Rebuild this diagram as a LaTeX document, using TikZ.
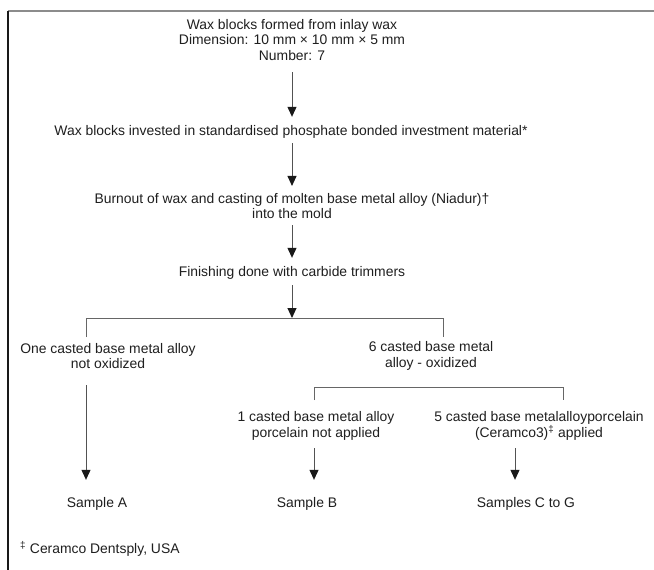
\documentclass[tikz,border=0pt]{standalone}
\usepackage{fontspec}
\setmainfont{Liberation Sans}
\usetikzlibrary{arrows.meta}
\begin{document}
\begin{tikzpicture}[x=1pt,y=-1pt,
  txt/.style={font=\fontsize{13.9}{15.5}\selectfont, align=center, inner sep=0pt, text=black!88},
  arr/.style={draw=black!68, line width=1pt, -{Triangle[width=9pt,length=10pt,black!90]}},
  brk/.style={draw=black!60, line width=1pt}]
\useasboundingbox (0,0) rectangle (654,570);
\fill[white] (0,0) rectangle (654,570);
% frame
\coordinate (fc) at (8,11);
\coordinate (fr) at (654,11);
\coordinate (fb) at (8,570);
\draw[black!45, line width=1.2pt] (fc) -- (fr);
\draw[black!90, line width=1.2pt] (fc) -- (fb);
% nodes
\node[txt] (n1) at (292,40) {Wax blocks formed from inlay wax\\Dimension: 10 mm × 10 mm × 5 mm\\Number: 7};
\node[txt] (n2) at (291,132) {Wax blocks invested in standardised phosphate bonded investment material*};
\node[txt] (n3) at (292,206) {Burnout of wax and casting of molten base metal alloy (Niadur)†\\into the mold};
\node[txt] (n4) at (292,273) {Finishing done with carbide trimmers};
\node[txt] (n5) at (108,356) {One casted base metal alloy\\not oxidized};
\node[txt] (n6) at (431,356) {6 casted base metal\\alloy - oxidized};
\node[txt] (n7) at (316,426) {1 casted base metal alloy\\porcelain not applied};
\node[txt] (n8) at (539,426) {5 casted base metalalloyporcelain\\(Ceramco3)\textsuperscript{‡} applied};
\node[txt] (sa) at (97,504) {Sample A};
\node[txt] (sb) at (307,504) {Sample B};
\node[txt] (sc) at (526,504) {Samples C to G};
\node[txt, anchor=west] (fn) at (20,549) {\textsuperscript{‡} Ceramco Dentsply, USA};
% bracket coordinates
\coordinate (bj) at (292,318);
\coordinate (bL) at (86,318);
\coordinate (bR) at (443,318);
\coordinate (cL) at (314,387);
\coordinate (cR) at (563,387);
\coordinate (lA) at (86,337);
\coordinate (lB) at (443,337);
\coordinate (lC) at (314,400);
\coordinate (lD) at (563,400);
\coordinate (aA) at (86,385);
\coordinate (aB) at (314,448);
\coordinate (aC) at (515,448);
% connectors
\draw[arr] ([yshift=-11.5pt]n1.south) -- ([yshift=8.5pt]n2.north -| n1.south);
\draw[arr] ([yshift=-4.5pt]n2.south -| n1.south) -- ([yshift=7pt]n3.north);
\draw[arr] ([yshift=-6pt]n3.south) -- ([yshift=8.5pt]n4.north);
\draw[arr] ([yshift=-5.5pt]n4.south) -- (bj);
\draw[brk] (lA) -- (bL) -- (bR) -- (lB);
\draw[brk] (lC) -- (cL) -- (cR) -- (lD);
\draw[arr] (aA) -- ([yshift=17.5pt]sa.north -| aA);
\draw[arr] (aB) -- ([yshift=17.5pt]sb.north -| aB);
\draw[arr] (aC) -- ([yshift=17.5pt]sc.north -| aC);
\end{tikzpicture}
\end{document}
